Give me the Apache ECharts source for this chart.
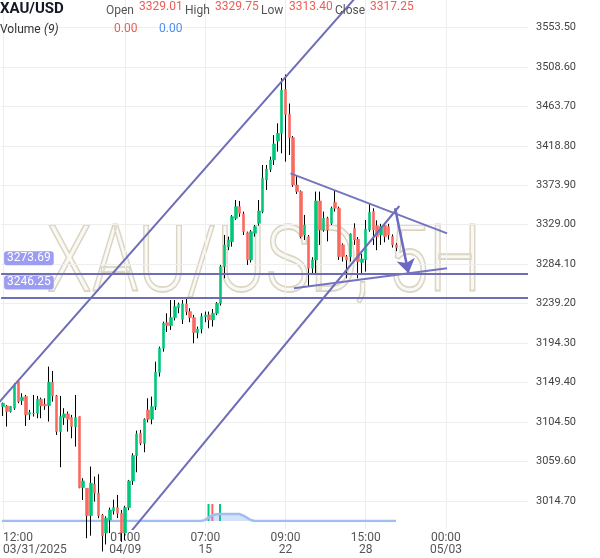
<!DOCTYPE html>
<html><head><meta charset="utf-8">
<script src="https://cdn.jsdelivr.net/npm/echarts@6/dist/echarts.min.js"></script>
<style>html,body{margin:0;padding:0;background:#fff}#c{width:600px;height:558px}</style>
</head><body><div id="c"></div>
<script>
// ---- data ----
const openP = [3122.0,3122.7,3116.3,3120.1,3150.4,3128.8,3133.3,3113.2,3114.4,3114.4,3130.3,3124.6,3123.1,3149.6,3134.1,3093.5,3109.4,3113.6,3109.4,3099.2,
3110.6,3029.7,3029.0,2997.9,3033.5,3023.3,2998.6,2978.0,2992.9,3003.2,3007.0,3000.5,2978.0,3007.0,3037.3,3066.2,3091.6,3080.2,3118.1,3107.5,
3121.9,3161.0,3188.3,3217.5,3214.1,3223.2,3234.6,3221.3,3238.8,3230.1,3223.2,3206.2,3210.3,3224.4,3226.3,3220.6,3228.1,3239.5,3281.3,3304.0,
3309.7,3336.3,3349.6,3341.2,3319.9,3288.9,3319.2,3330.6,3343.9,3379.9,3392.0,3402.7,3424.3,3433.0,3483.1,3454.6,3428.1,3374.2,3366.7,3317.3,
3315.4,3279.4,3288.9,3356.0,3323.0,3336.3,3330.6,3354.5,3347.7,3306.0,3292.7,3292.7,3324.9,3312.4,3286.0,3288.9,3323.0,3343.9,3328.0,3317.3,
3328.0,3326.8,3315.4,3306.0];
const closeP = [3125.7,3116.3,3122.0,3146.6,3127.6,3132.6,3112.5,3115.1,3113.6,3130.3,3122.7,3122.7,3149.6,3134.1,3093.5,3110.6,3113.6,3107.5,3099.2,3109.4,
3029.7,3037.3,2997.9,3034.7,3023.3,2997.9,2975.0,2994.8,3004.3,3007.0,3000.5,2978.0,3007.0,3037.3,3066.2,3090.8,3080.2,3107.5,3107.5,3121.9,
3161.0,3188.3,3216.8,3214.1,3223.2,3235.7,3238.4,3238.8,3230.1,3223.2,3206.2,3210.3,3224.4,3226.3,3220.6,3228.2,3239.5,3281.3,3305.9,3311.6,
3338.2,3349.6,3342.0,3321.1,3288.9,3321.1,3326.8,3344.6,3381.8,3392.4,3402.7,3420.9,3433.0,3482.3,3454.6,3428.1,3374.2,3366.7,3315.4,3328.7,
3279.4,3288.9,3356.0,3323.0,3336.3,3323.0,3347.7,3347.7,3292.7,3292.7,3288.9,3318.5,3311.6,3287.0,3290.0,3323.8,3343.1,3323.0,3315.4,3326.8,
3315.4,3317.3,3306.0,3302.96];
const lowP = [3111.3,3099.2,3115.1,3118.2,3125.7,3123.8,3099.9,3106.8,3110.6,3108.7,3108.7,3118.2,3104.9,3127.6,3089.7,3052.9,3101.1,3093.5,3085.9,3076.4,
3029.0,3015.7,2972.0,2975.0,3013.8,2994.8,2957.0,2965.0,2978.0,2999.0,2995.0,2968.0,2970.0,3004.0,3032.8,3047.2,3078.0,3070.0,3104.0,3101.8,
3118.1,3156.1,3184.5,3207.0,3209.2,3220.0,3228.2,3216.0,3226.0,3218.0,3194.0,3199.7,3205.4,3218.0,3211.1,3213.0,3226.0,3237.0,3268.0,3300.0,
3304.0,3334.4,3338.0,3317.3,3283.2,3286.0,3315.4,3328.0,3342.0,3368.5,3389.0,3397.0,3412.2,3410.3,3400.8,3408.4,3372.0,3364.0,3313.5,3311.6,
3258.5,3273.7,3273.7,3306.0,3321.1,3310.0,3328.7,3343.9,3288.9,3287.0,3268.0,3287.0,3306.0,3268.0,3274.0,3275.6,3321.1,3306.0,3300.0,3306.0,
3309.0,3312.0,3303.0,3299.0];
const highP = [3126.5,3123.8,3122.7,3148.5,3152.3,3137.1,3135.2,3118.2,3135.2,3134.1,3132.2,3131.4,3167.5,3162.5,3135.2,3134.1,3120.1,3116.3,3112.5,3135.2,
3110.6,3040.4,3029.0,3053.7,3042.3,3044.9,2999.8,2997.0,3007.0,3016.0,3021.4,3004.3,3009.0,3038.5,3068.9,3094.6,3095.4,3108.6,3131.4,3133.3,
3173.1,3190.2,3218.7,3228.2,3243.3,3243.3,3240.3,3243.3,3245.2,3233.9,3226.3,3213.0,3228.2,3230.1,3230.1,3233.0,3241.0,3283.2,3317.3,3315.4,
3340.0,3357.1,3356.0,3343.9,3321.1,3323.0,3328.7,3357.1,3397.0,3397.0,3406.5,3431.1,3444.4,3496.0,3500.0,3467.0,3430.0,3385.6,3368.0,3340.1,
3317.3,3292.0,3366.7,3366.7,3343.9,3338.0,3349.6,3368.5,3349.6,3307.8,3294.6,3319.2,3330.6,3315.0,3296.0,3334.4,3353.4,3347.7,3334.0,3330.0,
3331.0,3330.0,3318.0,3308.0];
const categoryCount = 138;
const yTicks = [3014.70,3059.60,3104.50,3149.40,3194.30,3239.20,3284.10,3329.00,3373.90,3418.80,3463.70,3508.60,3553.50];
const yMin = 2982.6, yMax = 3584.8;
const xLabelIdx = [0,32,53,74,95,116];
const xLabelText = ['12:00\n03/31/2025','01:00\n04/09','07:00\n15','09:00\n22','15:00\n28','00:00\n05/03'];
const levelLines = [3273.69, 3246.25];
const lastPrice = 3302.96;
const upperChannel = [[-3,3117.0],[95,3600.7]];
const lowerChannel = [[31.9,2971.2],[103.8,3350.3]];
const triangleTop = [[75.3,3387.5],[116.3,3319.2]];
const triangleBottom = [[76.2,3256.6],[116.3,3279.4]];
const arrowPath = [[102.7,3347.7],[106.2,3273.7]];
const volumeBarIdx = [54,55,57];
const volumeBarVal = [1,1,1];
const volumeBarDir = [1,-1,1];
const volumeMA = [0,0,0,0,0,0,0,0,0,0,0,0,0,0,0,0,0,0,0,0,0,0,0,0,0,0,0,0,0,0,0,0,0,0,0,0,0,0,0,0,0,0,0,0,0,0,0,0,0,0,0,0,0,
0.05,0.2,0.33,0.4,0.41,0.41,0.41,0.41,0.41,0.41,0.33,0.2,0.06,
0,0,0,0,0,0,0,0,0,0,0,0,0,0,0,0,0,0,0,0,0,0,0,0,0,0,0,0,0,0,0,0,0,0,0,0,0,0];
const symbolName = 'XAU/USD';
const watermarkText = 'XAU/USD, 5H';
const headerLabels = ['Open','High','Low','Close'];
const headerValues = [3329.01, 3329.75, 3313.40, 3317.25];
const volumeValues = [0.00, 0.00];

// ---- chart ----
const UP = '#00c77a', DOWN = '#f86a5f', LINE = '#6e6eb8';
const cats = Array.from({length: categoryCount}, (_, i) => String(i));
const labelMap = {}; xLabelIdx.forEach((k, j) => labelMap[k] = xLabelText[j]);
const isLabel = (i) => labelMap[i] !== undefined;
const wickData = openP.map((o, i) => [o, closeP[i], lowP[i], highP[i]]);
const bodyData = openP.map((o, i) => [o, closeP[i], Math.min(o, closeP[i]), Math.max(o, closeP[i])]);
const volBarData = volumeBarIdx.map((k, j) => ({value: [String(k), volumeBarVal[j]], itemStyle: {color: volumeBarDir[j] > 0 ? UP : DOWN}}));

const chart = echarts.init(document.getElementById('c'), null, {renderer: 'canvas'});
const FONT = 'Roboto';
const hdrX = [[106,139],[185,215],[261,289],[335,370]];
const graphics = [{
  type: 'text', x: 264, y: 268, scaleX: 0.81, z: 0, silent: true,
  style: {text: watermarkText, x: 0, y: 0, textAlign: 'center', textVerticalAlign: 'middle',
    font: '300 92px Roboto', fill: 'rgba(240,236,224,0.3)', stroke: '#d8d2bf', lineWidth: 1.8}
}, {
  type: 'text', x: 0, y: 9, z: 100, style: {text: symbolName, font: 'bold 15px Roboto', fill: '#131722', textVerticalAlign: 'middle'}
}];
headerLabels.forEach((t, j) => {
  graphics.push({type: 'text', x: hdrX[j][0], y: 11, z: 100, style: {text: t, font: '12px Roboto', fill: '#555', textVerticalAlign: 'middle'}});
  graphics.push({type: 'text', x: hdrX[j][1], y: 7, z: 100, style: {text: headerValues[j].toFixed(2), font: '12px Roboto', fill: '#ea5e57', textVerticalAlign: 'middle'}});
});
graphics.push({type: 'text', x: 0, y: 30, z: 100, style: {text: 'Volume', font: '12px Roboto', fill: '#333', textVerticalAlign: 'middle'}});
graphics.push({type: 'text', x: 44, y: 30, z: 100, style: {text: '(9)', font: 'italic 12px Roboto', fill: '#333', textVerticalAlign: 'middle'}});
graphics.push({type: 'text', x: 114, y: 29, z: 100, style: {text: volumeValues[0].toFixed(2), font: '12px Roboto', fill: '#ea5e57', textVerticalAlign: 'middle'}});
graphics.push({type: 'text', x: 159, y: 29, z: 100, style: {text: volumeValues[1].toFixed(2), font: '12px Roboto', fill: '#4f8ff0', textVerticalAlign: 'middle'}});

const trend = (name, data, color, width) => ({
  type: 'line', name, xAxisIndex: 2, yAxisIndex: 0, data, symbol: 'none', clip: true, silent: true,
  lineStyle: {color, width}, z: 5
});

chart.setOption({
  animation: false,
  textStyle: {fontFamily: FONT},
  grid: [
    {left: 0, right: 72, top: 0, bottom: 29},
    {left: 0, right: 72, bottom: 37, height: 40}
  ],
  xAxis: [
    {type: 'category', gridIndex: 0, data: cats, boundaryGap: true,
     axisLine: {show: false}, axisTick: {show: false},
     axisLabel: {interval: (i) => isLabel(i), formatter: (v, i) => labelMap[i] || '', color: '#555', fontSize: 12,
       lineHeight: 12, margin: 3, alignMinLabel: 'left', fontFamily: FONT},
     splitLine: {show: true, interval: (i) => isLabel(i), alignWithLabel: true, lineStyle: {color: '#eeeeee', width: 1}}},
    {type: 'category', gridIndex: 1, data: cats, boundaryGap: true, show: false},
    {type: 'value', gridIndex: 0, min: -0.5, max: categoryCount - 0.5, show: false}
  ],
  yAxis: [
    {type: 'value', gridIndex: 0, position: 'right', min: yMin, max: yMax,
     axisLine: {show: false}, axisTick: {show: false, customValues: yTicks},
     axisLabel: {customValues: yTicks, formatter: (v) => v.toFixed(2), color: '#444', fontSize: 11, margin: 8, fontFamily: FONT},
     splitLine: {show: true, lineStyle: {color: '#eeeeee', width: 1}}},
    {type: 'value', gridIndex: 1, min: 0, max: 2.35, show: false}
  ],
  graphic: graphics,
  series: [
    {type: 'candlestick', name: 'wick', xAxisIndex: 0, yAxisIndex: 0, data: wickData, barWidth: 1, silent: true, z: 3,
     itemStyle: {color: '#000', color0: '#000', borderColor: '#000', borderColor0: '#000', borderWidth: 1}},
    {type: 'candlestick', name: 'body', xAxisIndex: 0, yAxisIndex: 0, data: bodyData, barWidth: 3, silent: true, z: 4,
     itemStyle: {color: UP, color0: DOWN, borderColor: UP, borderColor0: DOWN, borderWidth: 0.6},
     markLine: {silent: true, symbol: 'none', animation: false,
       data: [
         ...levelLines.map(v => ({yAxis: v, lineStyle: {color: LINE, width: 2, type: 'solid'},
           label: {show: true, position: 'insideStartTop', distance: [3, 8], formatter: (p) => p.value.toFixed(2),
             color: '#fff', backgroundColor: '#9c9cf2', padding: [1, 3], borderRadius: 3, fontSize: 12, fontFamily: FONT}})),
         {yAxis: lastPrice, lineStyle: {opacity: 0, width: 0},
           label: {show: true, position: 'end', distance: 4, formatter: (p) => p.value.toFixed(2),
             color: '#fff', backgroundColor: '#f86a5f', padding: [3, 10], borderRadius: 3, fontSize: 12, fontFamily: FONT}}
       ]}},
    trend('upper', upperChannel, LINE, 2),
    trend('lower', lowerChannel, LINE, 2),
    trend('triTop', triangleTop, '#7474c0', 2),
    Object.assign(trend('triBottom', triangleBottom, '#7474c0', 2), {
      markLine: {silent: true, symbol: ['none', 'arrow'], symbolSize: 14, animation: false,
        lineStyle: {color: '#6a6ac2', width: 2.5, type: 'solid'}, label: {show: false},
        data: [[{coord: arrowPath[0]}, {coord: arrowPath[1]}]]}
    }),
    {type: 'bar', name: 'vol', xAxisIndex: 1, yAxisIndex: 1, data: volBarData, barWidth: 2, silent: true},
    {type: 'line', name: 'volMA', xAxisIndex: 1, yAxisIndex: 1, data: volumeMA, symbol: 'none', silent: true,
     lineStyle: {color: '#a2bdf0', width: 2.5}, areaStyle: {color: 'rgba(120,160,235,0.45)'}}
  ]
});
</script></body></html>
